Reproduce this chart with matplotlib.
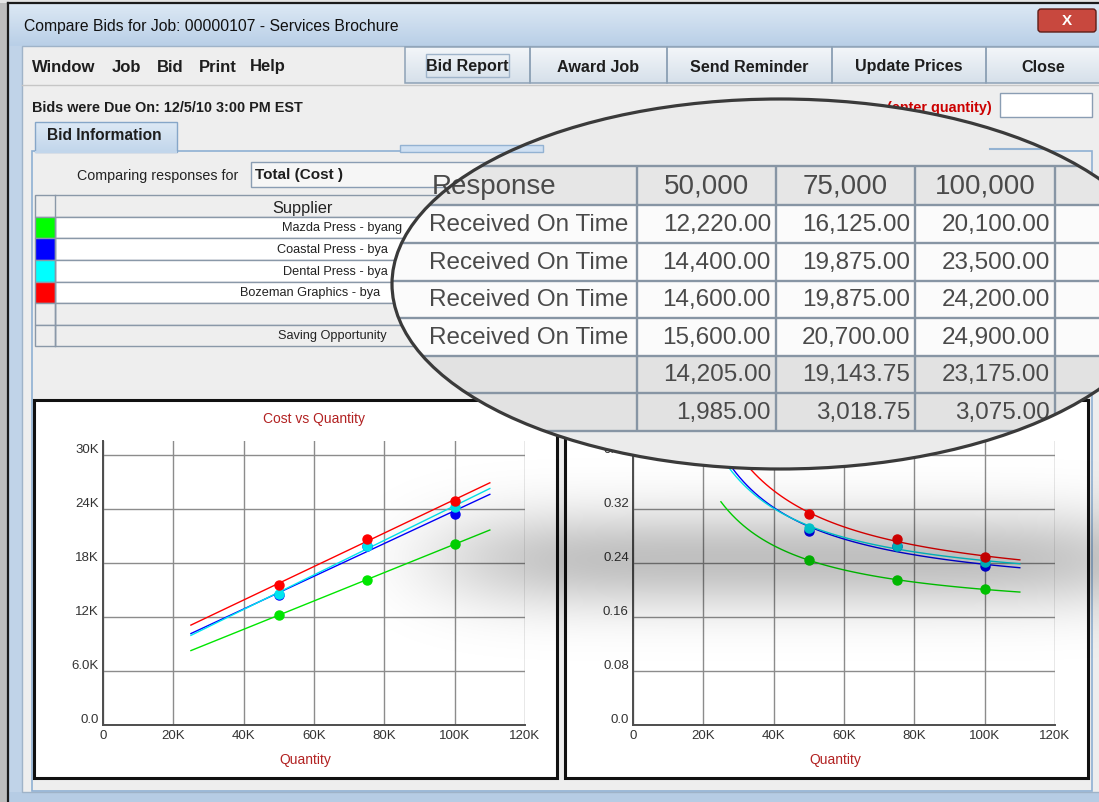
import numpy as np
import matplotlib.pyplot as plt
from matplotlib.patches import Rectangle, Ellipse, FancyBboxPatch
from matplotlib.colors import LinearSegmentedColormap

plt.rcParams["font.family"] = ["Liberation Sans", "DejaVu Sans"]

W, H = 1099, 803

# values
quantities = [50000, 75000, 100000]
qty_headers = ["50,000", "75,000", "100,000"]
supplier_names = ["Mazda Press - byang", "Coastal Press - bya",
                  "Dental Press - bya", "Bozeman Graphics - bya"]
supplier_colors = ["#00ff00", "#0000ff", "#00ffff", "#ff0000"]
series_colors = ["#00e600", "#0000ff", "#00e5ee", "#ff0000"]
mazda_cost = [12220.00, 16125.00, 20100.00]
coastal_cost = [14400.00, 19875.00, 23500.00]
dental_cost = [14600.00, 19875.00, 24200.00]
bozeman_cost = [15600.00, 20700.00, 24900.00]
average_cost = [14205.00, 19143.75, 23175.00]
saving_opportunity = [1985.00, 3018.75, 3075.00]
response_status = ["Received On Time"] * 4
trend_range = [25000, 110000]

qty_ticks = [0, 20000, 40000, 60000, 80000, 100000, 120000]
qty_labels = ["0", "20K", "40K", "60K", "80K", "100K", "120K"]
cost_ticks = [0, 6000, 12000, 18000, 24000, 30000]
cost_labels = ["0.0", "6.0K", "12K", "18K", "24K", "30K"]
unit_ticks = [0, 0.08, 0.16, 0.24, 0.32, 0.40]
unit_labels = ["0.0", "0.08", "0.16", "0.24", "0.32", "0.40"]

menu_items = ["Window", "Job", "Bid", "Print", "Help"]
toolbar_buttons = ["Bid Report", "Award Job", "Send Reminder", "Update Prices", "Close"]

fig = plt.figure(figsize=(W / 100, H / 100), dpi=100)


def pixel_axes(z):
    ax = fig.add_axes([0, 0, 1, 1], zorder=z)
    ax.set_xlim(0, W)
    ax.set_ylim(H, 0)
    ax.axis("off")
    return ax


def box(ax, x0, y0, x1, y1, fc, ec="none", lw=1.0, z=1):
    r = Rectangle((x0, y0), x1 - x0, y1 - y0, facecolor=fc, edgecolor=ec,
                  linewidth=lw, zorder=z)
    ax.add_patch(r)
    return r


def vgrad(ax, x0, x1, y0, y1, c_top, c_bot, z=1):
    cm = LinearSegmentedColormap.from_list("g", [c_top, c_bot])
    ax.imshow(np.linspace(0, 1, 50)[:, None], cmap=cm, extent=(x0, x1, y1, y0),
              aspect="auto", zorder=z, interpolation="bilinear")


# ---------------- window chrome / UI ----------------
ui = pixel_axes(0)
box(ui, 0, 0, W, H, "#eeeeee", z=0)
box(ui, 0, 0, 8, H, "#bdbdbd", z=0.2)
box(ui, 0, 0, W, 4, "#e4e4e4", z=0.2)
vgrad(ui, 8, W, 5, 47, "#dce8f4", "#b9cfe7", z=0.3)
box(ui, 8, 47, 22, H, "#c0d3e8", z=0.3)
box(ui, 8, 793, W, H, "#b6cce4", z=0.3)
ui.plot([8, 8], [4, H], color="#1b1b1b", lw=1.6, zorder=2)
ui.plot([8, W], [4, 4], color="#1b1b1b", lw=1.6, zorder=2)
box(ui, 22, 47, W + 5, 793, "#eeeeee", ec="#9fb3c8", z=0.4)

ui.text(24, 27, "Compare Bids for Job: 00000107 - Services Brochure",
        fontsize=11.3, va="center", color="#111111", zorder=3)
ui.add_patch(FancyBboxPatch((1038, 10), 58, 23, boxstyle="round,pad=0,rounding_size=3",
                            facecolor="#c8483e", edgecolor="#5e1d17", lw=1, zorder=3))
ui.text(1067, 21, "X", fontsize=11, weight="bold", color="white",
        ha="center", va="center", zorder=4)

for name, x in zip(menu_items, [32, 112, 157, 199, 250]):
    ui.text(x, 67, name, fontsize=12, weight="bold", va="center", color="#1e1e1e", zorder=3)

btn_edges = [405, 530, 667, 832, 986, W + 2]
for i, name in enumerate(toolbar_buttons):
    x0, x1 = btn_edges[i], btn_edges[i + 1]
    vgrad(ui, x0, x1, 48, 84, "#f3f6f9", "#d6e0ea", z=1)
    box(ui, x0, 48, x1, 84, "none", ec="#8ea2b6", lw=1.1, z=1.5)
    ui.text((x0 + x1) / 2, 67, name, fontsize=11.6, weight="bold",
            ha="center", va="center", color="#1e1e1e", zorder=3)
box(ui, 426, 55, 509, 78, "none", ec="#9fb4ca", lw=1, z=2)
ui.plot([22, W], [86, 86], color="#c6c6c6", lw=1, zorder=1)

ui.text(32, 108, "Bids were Due On: 12/5/10 3:00 PM EST", fontsize=10.4,
        weight="bold", va="center", color="#1e1e1e", zorder=3)
ui.text(992, 108, "(enter quantity)", fontsize=10.4, weight="bold",
        ha="right", va="center", color="#cc0000", zorder=3)
box(ui, 1000, 94, 1092, 118, "white", ec="#8a9db3", z=2)

# tabbed panel
box(ui, 32, 152, 1092, 792, "#eeeeee", ec="#8fb0d3", lw=1.2, z=1)
vgrad(ui, 35, 177, 123, 153, "#dde9f5", "#c2d6eb", z=1.6)
box(ui, 35, 123, 177, 153, "none", ec="#86a6c8", z=1.7)
ui.plot([36, 176], [152.5, 152.5], color="#c2d6eb", lw=1.5, zorder=1.8)
ui.text(47, 136, "Bid Information", fontsize=11.2, weight="bold",
        va="center", color="#1e1e1e", zorder=3)
box(ui, 400, 146, 543, 153, "#cfe0f2", ec="#93b2d2", z=1.6)

ui.text(77, 176, "Comparing responses for", fontsize=10.3, va="center",
        color="#222222", zorder=3)
box(ui, 251, 163, 545, 188, "#f6f6f6", ec="#8a9db3", z=2)
ui.text(255, 175, "Total (Cost )", fontsize=11.0, weight="bold",
        va="center", color="#1e1e1e", zorder=3)

# supplier table (left part, mostly hidden by the lens)
tbl_rows = [196, 218, 239, 261, 283, 304, 326, 347]
box(ui, 35, tbl_rows[0], 1092, tbl_rows[1], "#eeeeee", ec="#8a98a8", z=2)
for i in range(6):
    fc = "white" if i < 4 else "#eeeeee"
    box(ui, 55, tbl_rows[i + 1], 1092, tbl_rows[i + 2], fc, ec="#8a98a8", z=2)
    sw = supplier_colors[i] if i < 4 else "#eeeeee"
    box(ui, 35, tbl_rows[i + 1], 55, tbl_rows[i + 2], sw, ec="#8a98a8", z=2)
ui.plot([55, 55], [tbl_rows[0], tbl_rows[-1]], color="#8a98a8", lw=1, zorder=2.2)
ui.text(302, 208, "Supplier", fontsize=11.8, ha="center", va="center",
        color="#222222", zorder=3)
for name, x, i in zip(supplier_names, [282, 277, 283, 240], range(4)):
    ui.text(x, (tbl_rows[i + 1] + tbl_rows[i + 2]) / 2, name, fontsize=9.2,
            va="center", color="#222222", zorder=3)
ui.text(278, (tbl_rows[6] + tbl_rows[7]) / 2, "Saving Opportunity", fontsize=9.2,
        va="center", color="#222222", zorder=3)

# chart frames
box(ui, 34, 401, 557, 779, "white", ec="#111111", lw=2.2, z=2)
box(ui, 565, 401, 1088, 779, "white", ec="#111111", lw=2.2, z=2)
ui.set_xlim(0, W)
ui.set_ylim(H, 0)

# ---------------- charts ----------------
plot_h = 284
grid_top = 270


def make_chart(left_px, yticks, ylabels):
    ax = fig.add_axes([left_px / W, (H - 726) / H, 422 / W, plot_h / H], zorder=1)
    ax.set_facecolor("white")
    ax.set_xlim(0, qty_ticks[-1])
    ax.set_ylim(0, yticks[-1] * plot_h / grid_top)
    ax.set_xticks(qty_ticks, qty_labels)
    ax.set_yticks(yticks, ylabels)
    ax.grid(True, color="#8c8c8c", lw=1.0)
    ax.set_axisbelow(True)
    for s in ["top", "right"]:
        ax.spines[s].set_visible(False)
    for s in ["left", "bottom"]:
        ax.spines[s].set_color("#4d4d4d")
        ax.spines[s].set_linewidth(1.4)
    ax.tick_params(length=0, pad=3, labelsize=9.5, labelcolor="#333333")
    for lbl in ax.get_yticklabels():
        lbl.set_va("bottom")
    ax.set_xlabel("Quantity", color="#b22222", fontsize=10)
    ax.xaxis.set_label_coords(0.48, -0.095)
    return ax


ax_cost = make_chart(103, cost_ticks, cost_labels)
ax_unit = make_chart(633, unit_ticks, unit_labels)
ax_cost.set_title("Cost vs Quantity", color="#b22222", fontsize=10, pad=14)

xs = np.linspace(trend_range[0], trend_range[1], 80)
q = np.array(quantities, dtype=float)
for cost, col in zip([mazda_cost, coastal_cost, dental_cost, bozeman_cost], series_colors):
    c = np.array(cost)
    slope, icpt = np.polyfit(q, c, 1)
    trend = slope * xs + icpt
    ax_cost.plot(xs, trend, color=col, lw=1.0, zorder=3)
    ax_cost.plot(q, c, "o", color=col, ms=6.5, zorder=4)
    ax_unit.plot(xs, trend / xs, color=col, lw=1.0, zorder=3)
    ax_unit.plot(q, c / q, "o", color=col, ms=6.5, zorder=4)

# ---------------- magnifier lens ----------------
top = pixel_axes(3)

# soft shadow under the lens
sx = np.arange(380, W + 1)
sy = np.arange(430, 720)
X, Y = np.meshgrid(sx, sy)
alpha = 0.25 * np.exp(-((X - 800) / 360.0) ** 6) * np.exp(-((Y - 560) / 50.0) ** 2)
shadow = np.zeros(alpha.shape + (4,))
shadow[..., 3] = alpha
top.imshow(shadow, extent=(380, W + 1, 720, 430), aspect="auto", zorder=1,
           interpolation="bilinear")

lens = Ellipse((780, 285), 776, 370, facecolor="#ebebeb", edgecolor="none", zorder=2)
top.add_patch(lens)


def clipped(artist):
    artist.set_clip_path(lens)
    return artist


row_edges = [167, 206, 244, 282, 319, 357, 394, 432]
col_edges = [380, 637, 776, 915, 1055, 1110]
for i in range(7):
    fc = "#e6e6e6" if i == 0 else ("#fbfbfb" if i <= 4 else "#e2e2e2")
    clipped(box(top, col_edges[0], row_edges[i], col_edges[-1], row_edges[i + 1], fc, z=3))
clipped(top.hlines(row_edges, col_edges[0], col_edges[-1], color="#8795a4", lw=1.7, zorder=4))
clipped(top.vlines(col_edges[1:5], row_edges[0], row_edges[-1], color="#8795a4", lw=1.7, zorder=4))
clipped(box(top, 400, 146, 543, 153, "#cfe0f2", ec="#93b2d2", z=3))
clipped(top.plot([990, 1090, 1090], [150, 150, 167], color="#93b2d2", lw=1.5, zorder=3)[0])

txt = dict(color="#4a4a4a", va="center", zorder=5)
hy = (row_edges[0] + row_edges[1]) / 2
clipped(top.text(432, hy, "Response", fontsize=20, ha="left", **txt))
for j, lab in enumerate(qty_headers):
    clipped(top.text((col_edges[j + 1] + col_edges[j + 2]) / 2, hy, lab,
                     fontsize=20, ha="center", **txt))

table_rows = [mazda_cost, coastal_cost, dental_cost, bozeman_cost,
              average_cost, saving_opportunity]
for i, vals in enumerate(table_rows):
    y = (row_edges[i + 1] + row_edges[i + 2]) / 2
    if i < len(response_status):
        clipped(top.text(429, y, response_status[i], fontsize=17.5, ha="left", **txt))
    for j, v in enumerate(vals):
        clipped(top.text(col_edges[j + 2] - 5, y, f"{v:,.2f}", fontsize=17.5,
                         ha="right", **txt))

top.add_patch(Ellipse((780, 285), 776, 370, fill=False, edgecolor="#3a3a3a",
                      lw=2.3, zorder=10))
top.set_xlim(0, W)
top.set_ylim(H, 0)

fig.savefig("out.png", dpi=100)
